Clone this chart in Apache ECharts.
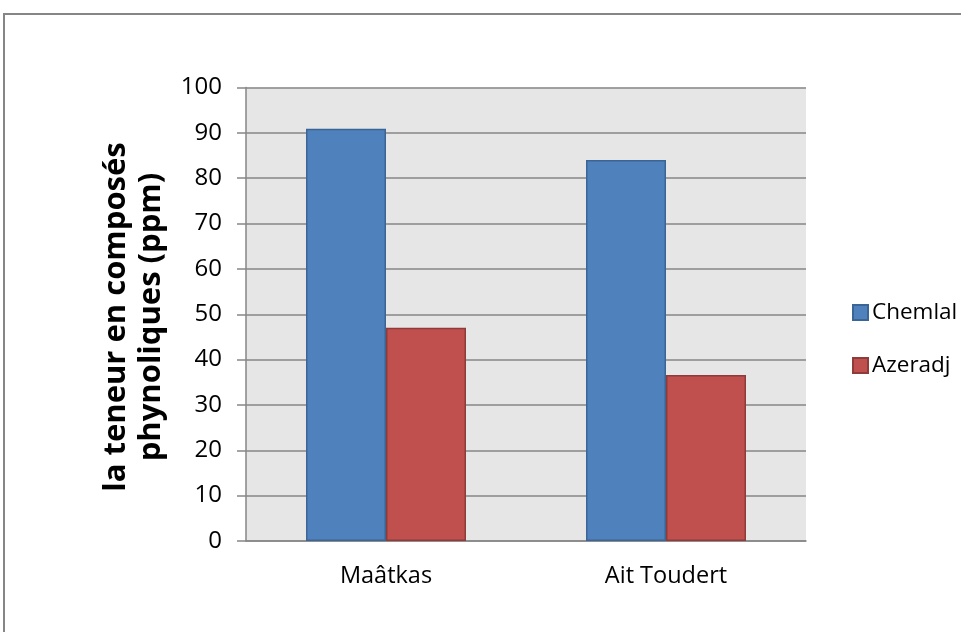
<!DOCTYPE html>
<html>
<head>
<meta charset="utf-8">
<style>
  html, body { margin: 0; padding: 0; background: #ffffff; }
  #chart { width: 961px; height: 632px; }
</style>
<script src="https://cdn.jsdelivr.net/npm/echarts@6/dist/echarts.min.js"></script>
</head>
<body>
<div id="chart"></div>
<script>
// Sites and measured phenolic content (ppm) per olive variety
const categories = ['Maâtkas', 'Ait Toudert'];
const chemlal = [90.9, 84.0];
const azeradj = [47.0, 36.6];
const yTicks = { min: 0, max: 100, interval: 10 };

const FONT = '"Open Sans", "DejaVu Sans", sans-serif';
const chart = echarts.init(document.getElementById('chart'), null, { renderer: 'canvas' });

chart.setOption({
  animation: false,
  backgroundColor: '#ffffff',
  textStyle: { fontFamily: FONT },
  graphic: [
    {
      type: 'rect',
      shape: { x: 4, y: 14, width: 2000, height: 2000 },
      style: { fill: 'none', stroke: '#868686', lineWidth: 2 },
      silent: true
    },
    {
      type: 'text',
      x: 134,
      y: 317,
      rotation: Math.PI / 2,
      style: {
        text: 'la teneur en composés\nphynoliques (ppm)',
        fontFamily: FONT,
        fontSize: 31,
        fontWeight: 'bold',
        lineHeight: 35,
        fill: '#000000',
        align: 'center',
        verticalAlign: 'middle'
      }
    }
  ],
  legend: {
    orient: 'vertical',
    left: 847,
    top: 296,
    itemWidth: 15,
    itemHeight: 15,
    itemGap: 30,
    icon: 'rect',
    textStyle: { fontSize: 22.5, color: '#000000', fontFamily: FONT, padding: [0, 0, 0, -1] },
    data: ['Chemlal', 'Azeradj']
  },
  grid: {
    left: 246,
    right: 155,
    top: 87.5,
    bottom: 91,
    show: true,
    backgroundColor: '#e6e6e6',
    borderWidth: 0
  },
  xAxis: {
    type: 'category',
    data: categories,
    axisLine: { show: true, lineStyle: { color: '#868686', width: 1.5 } },
    axisTick: { show: false },
    axisLabel: { color: '#000000', fontSize: 23.5, margin: 23, fontFamily: FONT }
  },
  yAxis: {
    type: 'value',
    min: yTicks.min,
    max: yTicks.max,
    interval: yTicks.interval,
    axisLine: { show: true, lineStyle: { color: '#868686', width: 1.5 } },
    axisTick: { show: true, length: 9, lineStyle: { color: '#868686', width: 1.5 } },
    axisLabel: { color: '#000000', fontSize: 24, margin: 24, fontFamily: FONT },
    splitLine: { show: true, lineStyle: { color: '#868686', width: 1.5 } }
  },
  series: [
    {
      name: 'Chemlal',
      type: 'bar',
      data: chemlal,
      barGap: '0%',
      barCategoryGap: '42.86%',
      itemStyle: { color: '#4f81bd', borderColor: '#3b6596', borderWidth: 1.5 }
    },
    {
      name: 'Azeradj',
      type: 'bar',
      data: azeradj,
      itemStyle: { color: '#c0504d', borderColor: '#8e3b39', borderWidth: 1.5 }
    }
  ]
});
</script>
</body>
</html>
